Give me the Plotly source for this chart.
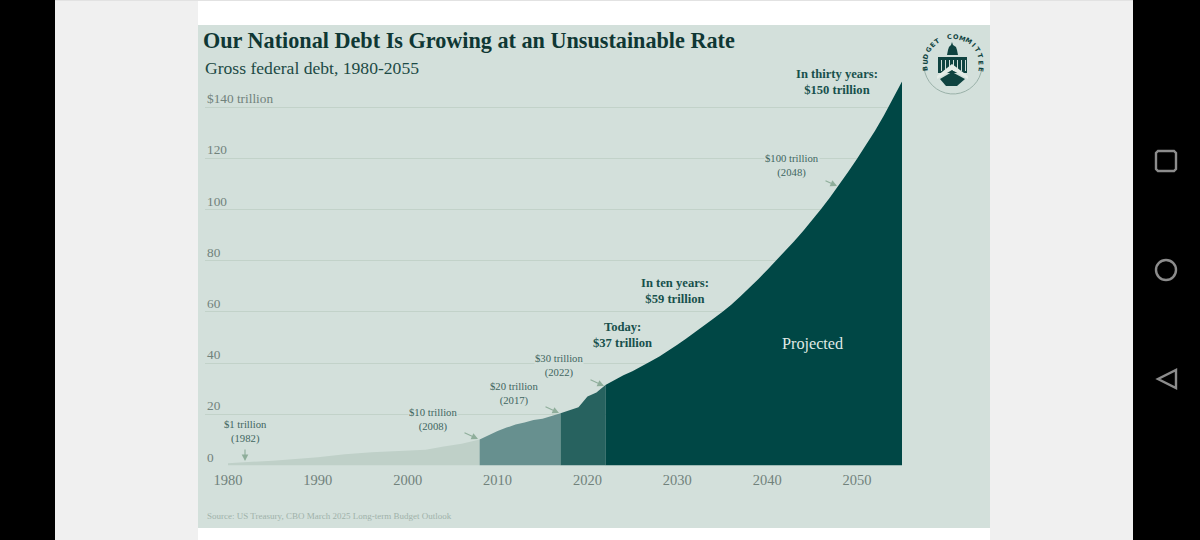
import math
import plotly.graph_objects as go

YEARS = [1980, 1982, 1985, 1990, 1993, 1996, 2000, 2002, 2004, 2006, 2008,
         2009, 2010, 2011, 2012, 2013, 2014, 2015, 2016, 2017,
         2018, 2019, 2020, 2021, 2022,
         2023, 2024, 2025, 2026, 2027, 2028, 2029, 2030, 2031, 2032, 2033, 2034, 2035,
         2036, 2037, 2038, 2039, 2040, 2041, 2042, 2043, 2044, 2045, 2046, 2047, 2048,
         2049, 2050, 2051, 2052, 2053, 2054, 2055]
DEBT = [0.9, 1.2, 1.9, 3.2, 4.4, 5.2, 5.7, 6.2, 7.4, 8.5, 10.2,
        11.9, 13.5, 14.8, 16.0, 16.8, 17.8, 18.3, 19.5, 20.4,
        21.6, 22.8, 27.0, 28.5, 31.4,
        33.3, 35.3, 36.8, 38.6, 40.6, 42.6, 44.8, 47.2, 49.6, 52.1, 54.8, 57.3, 60.0,
        62.8, 66.0, 69.3, 72.8, 76.4, 80.0, 83.8, 87.6, 91.6, 95.8, 100.2, 104.8, 109.6,
        114.6, 119.8, 125.2, 130.8, 136.8, 143.2, 150.0]
SEGMENT_BREAKS = [1980, 2008, 2017, 2022, 2055]
SEGMENT_COLORS = ['#bfd0c8', '#67908f', '#27625f', '#004745']
X_TICKS = [1980, 1990, 2000, 2010, 2020, 2030, 2040, 2050]
Y_TICKS = [0, 20, 40, 60, 80, 100, 120, 140]
Y_LABELS = ['0', '20', '40', '60', '80', '100', '120', '$140 trillion']

SERIF = 'Liberation Serif'
PANEL = '#d3e0db'
MUTED = '#71827b'
ARROW = '#8fae9b'
DARK = '#0f4340'


def px(x):
    return x / 1200


def py(y):
    return 1 - y / 540


def poly(points, close=True):
    path = 'M ' + ' L '.join(f'{px(x):.5f} {py(y):.5f}' for x, y in points)
    return path + (' Z' if close else '')


def rect(x0, y0, x1, y1, color):
    return dict(type='rect', xref='paper', yref='paper', x0=px(x0), x1=px(x1), y0=py(y0), y1=py(y1),
                fillcolor=color, line_width=0, layer='below')


def outline(points, color, width=2.4, close=True, fill='rgba(0,0,0,0)'):
    return dict(type='path', xref='paper', yref='paper', path=poly(points, close), fillcolor=fill,
                line=dict(color=color, width=width), layer='above')


def solid(points, color):
    return dict(type='path', xref='paper', yref='paper', path=poly(points), fillcolor=color, line_width=0, layer='above')


def note(x, y, text, size=10.7, color='#3f6661', bold=False, bg=None, align='center'):
    if bold:
        text = '<br>'.join(f'<b>{t}</b>' for t in text.split('<br>'))
    return dict(xref='paper', yref='paper', x=px(x), y=py(y), text=text, showarrow=False,
                font=dict(family=SERIF, size=size, color=color), xanchor=align, yanchor='middle', align=align,
                bgcolor=bg, borderpad=0)


def arrow(x0, y0, x1, y1):
    return dict(xref='paper', yref='paper', x=px(x1), y=py(y1), ax=x0 - x1, ay=y0 - y1, text='', showarrow=True,
                arrowcolor=ARROW, arrowhead=2, arrowsize=1.2, arrowwidth=1.1, standoff=0)


fig = go.Figure()

for i, color in enumerate(SEGMENT_COLORS):
    keep = [k for k, yr in enumerate(YEARS) if SEGMENT_BREAKS[i] <= yr <= SEGMENT_BREAKS[i + 1]]
    fig.add_trace(go.Scatter(x=[YEARS[k] for k in keep], y=[DEBT[k] for k in keep], mode='lines', fill='tozeroy',
                             fillcolor=color, line=dict(width=0, color=color), hoverinfo='skip', showlegend=False))

shapes = [rect(0, 0, 1200, 540, '#000000'), rect(55, 0, 1133, 540, '#f0f0f0'),
          rect(198, 0, 990, 540, '#ffffff'), rect(55, 0, 1133, 1, '#e2e2e2'), rect(198, 25, 990, 528, PANEL)]

# phone navigation buttons
nav = '#8c8c8c'
shapes.append(outline([(1158, 151), (1174, 151), (1176, 153), (1176, 169), (1174, 171), (1158, 171), (1156, 169), (1156, 153)], nav))
shapes.append(dict(type='circle', xref='paper', yref='paper', x0=px(1156), x1=px(1176), y0=py(280), y1=py(260),
                   line=dict(color=nav, width=2.4), layer='above'))
shapes.append(outline([(1176, 370), (1176, 388), (1158, 379)], nav))

# logo
shapes.append(solid([(952, 42), (953, 45), (956, 47), (957, 50), (958, 55), (947, 55), (948, 50), (949, 47), (951, 45)], DARK))
shapes.append(solid([(938, 57), (967, 57), (967, 73), (938, 73)], DARK))
shapes.extend(solid([(x, 60), (x + 1, 60), (x + 1, 71), (x, 71)], PANEL) for x in range(941, 966, 4))
shapes.append(solid([(952, 64), (968, 76), (968, 79), (952, 70), (937, 79), (937, 76)], '#e4ece7'))
shapes.append(solid([(952, 72), (965, 79), (957, 86), (946, 86), (940, 79)], DARK))
arc = [(953 + 29 * math.cos(math.radians(a)), 65 + 29 * math.sin(math.radians(a))) for a in range(5, 180, 10)]
shapes.append(outline(arc, '#93aca3', width=0.9, close=False))

annotations = []
for val, label in zip(Y_TICKS, Y_LABELS):
    y = 465.5 - val * 2.56 - 8.5
    annotations.append(note(206, y, label, size=13.3, color=MUTED, align='left'))

annotations += [
    note(202, 40, 'Our National Debt Is Growing at an Unsustainable Rate', size=22.2, color='#0f3734', bold=True, align='left'),
    note(204, 68, 'Gross federal debt, 1980-2055', size=17.6, color='#1c4a45', align='left'),
    note(206, 516, 'Source: US Treasury, CBO March 2025 Long-term Budget Outlook', size=9, color='#a0b2aa', align='left'),
    note(245, 431, '$1 trillion<br>(1982)', bg=PANEL),
    note(433, 419, '$10 trillion<br>(2008)', bg=PANEL),
    note(514, 393, '$20 trillion<br>(2017)', bg=PANEL),
    note(559, 365, '$30 trillion<br>(2022)', bg=PANEL),
    note(792, 166, '$100 trillion<br>(2048)', bg=PANEL),
    note(622, 335, 'Today:<br>$37 trillion', size=12.6, color='#17504c', bold=True),
    note(675, 291, 'In ten years:<br>$59 trillion', size=12.6, color='#17504c', bold=True),
    note(837, 82, 'In thirty years:<br>$150 trillion', size=12.6, color='#17504c', bold=True),
    note(812, 344, 'Projected', size=16.2, color='#dfe9e4'),
    arrow(245, 448, 245, 461),
    arrow(463, 432, 478, 439),
    arrow(544, 406, 559, 413),
    arrow(589, 379, 604, 386),
    arrow(824, 180, 837, 186),
]

# logo lettering, one rotated letter at a time round the ring
LOGO_TEXT = 'BUDGET COMMITTEE'
for i, ch in enumerate(LOGO_TEXT):
    ang = -98 + i * 196 / (len(LOGO_TEXT) - 1)
    rad = math.radians(ang)
    annotations.append(dict(xref='paper', yref='paper', x=px(953 + 28 * math.sin(rad)), y=py(65 - 28 * math.cos(rad)),
                            text=f'<b>{ch}</b>', showarrow=False, textangle=ang, xanchor='center', yanchor='middle',
                            font=dict(family='DejaVu Sans', size=6.5, color=DARK)))

fig.update_layout(
    width=1200, height=540, margin=dict(l=0, r=0, t=0, b=0), autosize=False,
    paper_bgcolor='#000000', plot_bgcolor='rgba(0,0,0,0)', showlegend=False,
    shapes=shapes, annotations=annotations,
    xaxis=dict(domain=[px(205), px(902)], range=[1980 - 23 / 8.987, 2055], tickvals=X_TICKS, ticks='', showgrid=False,
               zeroline=False, showline=False, ticklabelstandoff=4, tickfont=dict(family=SERIF, size=14.5, color=MUTED)),
    yaxis=dict(domain=[py(465.5), py(81.5)], range=[0, 150], tickvals=Y_TICKS, showticklabels=False, ticks='',
               gridcolor='#c2d2c9', gridwidth=1, zeroline=False, showline=False),
)

fig.write_html("out.html", post_script="document.body.style.margin='0';", config={'displayModeBar': False})
